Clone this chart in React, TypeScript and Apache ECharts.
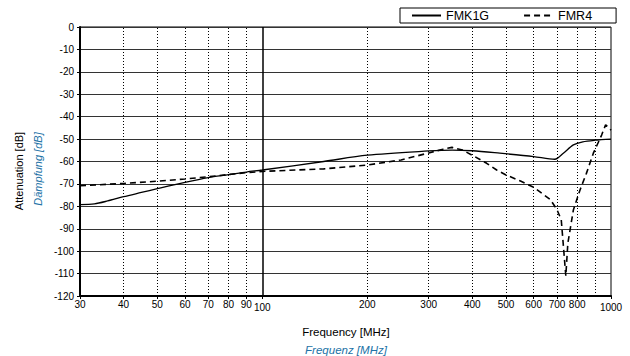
import React, { useEffect, useRef } from "react";
import * as echarts from "echarts";

const freqTicks = [30, 40, 50, 60, 70, 80, 90, 100, 200, 300, 400, 500, 600, 700, 800, 1000];
const dottedGrid = [40, 50, 60, 70, 80, 90, 200, 300, 400, 500, 600, 700, 800, 900];
const solidGrid = [100];

const fmk1gFreq = [30, 33, 36, 40, 45, 50, 60, 70, 80, 90, 100, 150, 200, 300, 350, 400, 480, 600, 690, 730, 780, 830, 900, 1000];
const fmk1gVal = [-79.2, -78.9, -77.6, -75.7, -73.8, -72.1, -69.3, -67.2, -65.9, -64.7, -63.8, -60, -57.2, -55.3, -54.9, -55.2, -56.3, -57.8, -59, -56.3, -52.6, -51.2, -50.5, -50];

const fmr4Freq = [30, 40, 50, 60, 70, 80, 90, 100, 150, 200, 250, 300, 330, 350, 375, 400, 440, 470, 500, 550, 600, 670, 700, 720, 742, 752, 780, 815, 850, 890, 940, 965, 1000];
const fmr4Val = [-70.8, -69.8, -68.8, -67.8, -66.8, -65.8, -65, -64.4, -63.3, -61.6, -59.3, -56.2, -54.5, -53.7, -54.9, -57.2, -60.8, -63.8, -66, -68.7, -71.5, -77, -81.5, -86, -111, -96.5, -81.6, -72.7, -65.3, -56.3, -48.2, -43.6, -46];

const FONT = "'Liberation Sans', Arial, Helvetica, sans-serif";
const BLUE = "#2272a6";

export default function App() {
  const ref = useRef<HTMLDivElement>(null);
  useEffect(() => {
    if (!ref.current) return;
    const chart = echarts.init(ref.current, null, { renderer: "svg" });
    const zip = (f: number[], v: number[]) => f.map((x, i) => [x, v[i]]);
    chart.setOption({
      animation: false,
      textStyle: { fontFamily: FONT },
      grid: { left: 80, right: 19, top: 27, bottom: 60, show: true, borderColor: "#000", borderWidth: 1, backgroundColor: "transparent" },
      legend: {
        left: 400,
        top: 8,
        orient: "horizontal",
        backgroundColor: "#fff",
        borderColor: "#000",
        borderWidth: 1,
        borderRadius: 0,
        padding: [1, 24, 1, 11],
        itemWidth: 29,
        itemHeight: 12,
        itemGap: 34,
        itemStyle: { opacity: 0, borderWidth: 0 },
        textStyle: { fontSize: 12.5, color: "#000", fontFamily: FONT },
        data: ["FMK1G", "FMR4"],
      },
      xAxis: {
        type: "log",
        logBase: 10,
        min: 30,
        max: 1000,
        axisLine: { show: true, onZero: false, lineStyle: { color: "#000", width: 2 } },
        axisTick: { show: true, length: 3, customValues: freqTicks, lineStyle: { color: "#000" } },
        splitLine: { show: false },
        minorSplitLine: { show: false },
        axisLabel: {
          customValues: freqTicks,
          margin: 3,
          fontSize: 10,
          color: "#000",
          fontFamily: FONT,
          formatter: (v: number) => {
            const r = Math.round(v);
            return r === 100 || r === 1000 ? `{low|${r}}` : String(r);
          },
          rich: { low: { fontSize: 10, color: "#000", padding: [3, 0, 0, 0], fontFamily: FONT } },
        },
      },
      yAxis: {
        type: "value",
        min: -120,
        max: 0,
        interval: 10,
        axisLine: { show: true, lineStyle: { color: "#000", width: 2 } },
        axisTick: { show: true, length: 3, inside: false, lineStyle: { color: "#000" } },
        axisLabel: { fontSize: 10, color: "#000", margin: 6, fontFamily: FONT },
        splitLine: { show: true, lineStyle: { color: "#333", width: 1 } },
      },
      series: [
        {
          name: "FMK1G",
          type: "line",
          data: zip(fmk1gFreq, fmk1gVal),
          symbol: "none",
          smooth: 0.3,
          lineStyle: { color: "#000", width: 1.3, type: "solid" },
          itemStyle: { color: "#000" },
          z: 5,
          markLine: {
            silent: true,
            symbol: "none",
            label: { show: false },
            data: [
              ...dottedGrid.map((f) => ({ xAxis: f, lineStyle: { color: "#000", width: 1, type: [1, 2] } })),
              ...solidGrid.map((f) => ({ xAxis: f, lineStyle: { color: "#000", width: 1.5, type: "solid" } })),
            ],
          },
        },
        {
          name: "FMR4",
          type: "line",
          data: zip(fmr4Freq, fmr4Val),
          symbol: "none",
          lineStyle: { color: "#000", width: 1.6, type: [6, 4] },
          itemStyle: { color: "#000" },
          z: 5,
        },
      ],
      graphic: [
        { type: "text", x: 19, y: 171, rotation: Math.PI / 2, style: { text: "Attenuation [dB]", fill: "#000", font: `11px ${FONT}`, align: "center", verticalAlign: "middle" } },
        { type: "text", x: 38, y: 169, rotation: Math.PI / 2, style: { text: "Dämpfung [dB]", fill: BLUE, font: `italic 11px ${FONT}`, align: "center", verticalAlign: "middle" } },
        { type: "text", x: 346, y: 332, style: { text: "Frequency [MHz]", fill: "#000", font: `11.5px ${FONT}`, align: "center", verticalAlign: "middle" } },
        { type: "text", x: 346, y: 350, style: { text: "Frequenz [MHz]", fill: BLUE, font: `italic 11.5px ${FONT}`, align: "center", verticalAlign: "middle" } },
      ],
    });
    return () => chart.dispose();
  }, []);
  return <div ref={ref} style={{ width: 630, height: 356, position: "absolute", left: 0, top: 0 }} />;
}
